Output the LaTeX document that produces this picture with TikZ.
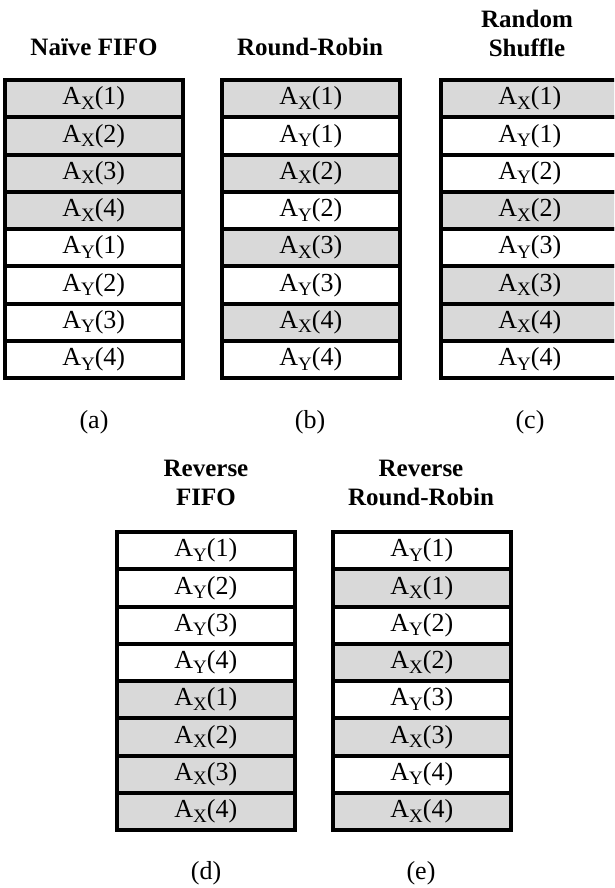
\documentclass[tikz,border=0pt]{standalone}
\usepackage{fontspec}
\setmainfont{Liberation Serif}
\colorlet{cX}{black!15}
\colorlet{cY}{white}
\newcommand{\cellA}[2]{A\raisebox{-0.38ex}{\fontsize{19}{19}\selectfont #1}(#2)}
\begin{document}
\begin{tikzpicture}[x=1pt,y=-1pt,
  cellbox/.style={draw=black, line width=4pt, minimum width=177.5pt, minimum height=37.25pt,
    inner sep=0pt, outer sep=0pt, font=\fontsize{26}{26}\selectfont, anchor=north west},
  title/.style={font=\fontsize{25}{29}\selectfont\bfseries, align=center},
  caption/.style={font=\fontsize{26}{26}\selectfont}]
\useasboundingbox (0,0) rectangle (614,888);
\clip (0,0) rectangle (614,888);

% (a) Naive FIFO
\foreach \L/\n [count=\i from 0] in {X/1,X/2,X/3,X/4,Y/1,Y/2,Y/3,Y/4}
  \node[cellbox, fill=c\L] (a\i) at (5,80+37.25*\i) {\cellA{\L}{\n}};
% (b) Round-Robin
\foreach \L/\n [count=\i from 0] in {X/1,Y/1,X/2,Y/2,X/3,Y/3,X/4,Y/4}
  \node[cellbox, fill=c\L] (b\i) at (222,80+37.25*\i) {\cellA{\L}{\n}};
% (c) Random Shuffle
\foreach \L/\n [count=\i from 0] in {X/1,Y/1,Y/2,X/2,Y/3,X/3,X/4,Y/4}
  \node[cellbox, fill=c\L] (c\i) at (441,80+37.25*\i) {\cellA{\L}{\n}};
% (d) Reverse FIFO
\foreach \L/\n [count=\i from 0] in {Y/1,Y/2,Y/3,Y/4,X/1,X/2,X/3,X/4}
  \node[cellbox, fill=c\L] (d\i) at (117,532+37.25*\i) {\cellA{\L}{\n}};
% (e) Reverse Round-Robin
\foreach \L/\n [count=\i from 0] in {Y/1,X/1,Y/2,X/2,Y/3,X/3,Y/4,X/4}
  \node[cellbox, fill=c\L] (e\i) at (333,532+37.25*\i) {\cellA{\L}{\n}};

\node[title] (ta) at (94,47) {Naïve FIFO};
\node[title] (tb) at (310,47) {Round-Robin};
\node[title] (tc) at (527,33) {Random\\Shuffle};
\node[title] (td) at (206,483) {Reverse\\FIFO};
\node[title] (te) at (421,483) {Reverse\\Round-Robin};

\node[caption] (ca) at (94,422) {(a)};
\node[caption] (cb) at (310,422) {(b)};
\node[caption] (cc) at (530,422) {(c)};
\node[caption] (cd) at (206,873) {(d)};
\node[caption] (ce) at (421,873) {(e)};
\end{tikzpicture}
\end{document}
